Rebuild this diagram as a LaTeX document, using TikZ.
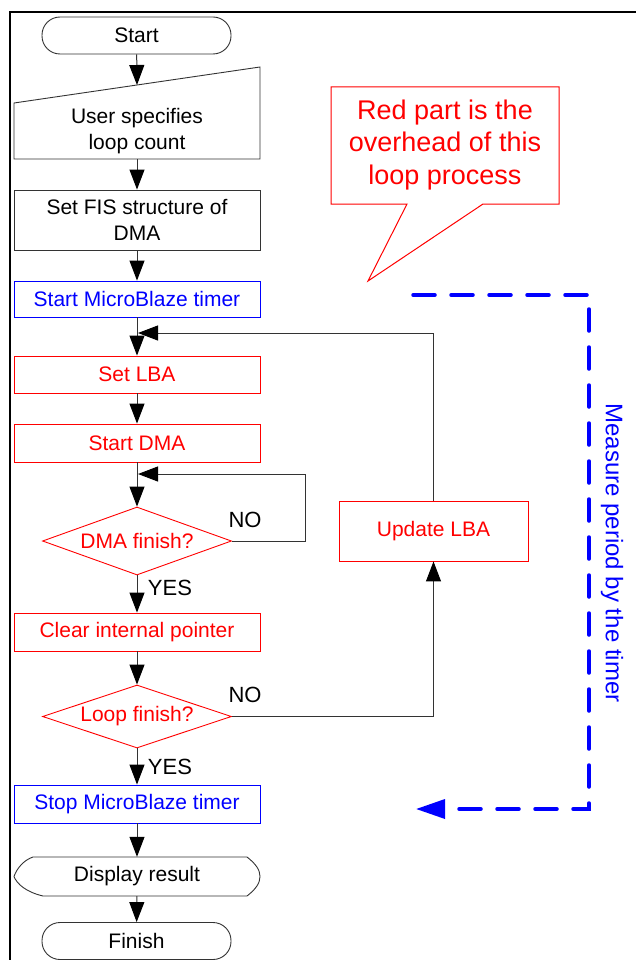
\documentclass[tikz,border=0pt]{standalone}
\usepackage{fontspec}
\setmainfont{Liberation Sans}
\usetikzlibrary{arrows.meta,shapes.geometric,calc}
\definecolor{pred}{RGB}{255,0,0}
\definecolor{pblue}{RGB}{0,0,255}
\begin{document}
\begin{tikzpicture}[x=1pt,y=-1pt,
  txt/.style={font=\fontsize{21}{26}\selectfont, align=center},
  procbox/.style={draw=black!80, line width=0.9pt, minimum width=246pt, inner sep=0pt, txt},
  redbox/.style={procbox, draw=pred, text=pred},
  bluebox/.style={procbox, draw=pblue, text=pblue},
  conn/.style={draw=black!80, line width=1pt, -{Triangle[length=20pt,width=15pt,color=black]}},
  outline/.style={draw=black!80, line width=0.9pt},
  dec/.style={shape=diamond, draw=pred, text=pred, line width=0.9pt, minimum width=189pt, minimum height=68pt, inner sep=0pt, aspect=2.8, txt},
  term/.style={draw=black!80, line width=0.9pt, rounded corners=18pt, minimum width=189pt, minimum height=37pt, inner sep=0pt, txt},
  lbl/.style={font=\fontsize{22}{26}\selectfont, inner sep=0pt},
  timerline/.style={draw=pblue, line width=3.5pt, line cap=round, dash pattern=on 22pt off 16pt}
]
\useasboundingbox (0,0) rectangle (635,960);
% frame
\draw[line width=2.5pt] (10,962) -- (10,12) -- (637,12);

% nodes
\node[term] (start) at (136.5,35.5) {Start};
\draw[outline] (14,103) -- (260,67) -- (260,159) -- (14,159) -- cycle;
\node[txt] (inp) at (137,131) {User specifies\\ loop count};
\coordinate (inptop) at (137,85);
\coordinate (inpbot) at (137,159);
\node[procbox, minimum height=60pt] (fis) at (137,220) {Set FIS structure of\\DMA};
\node[bluebox, minimum height=36pt] (t1) at (137,299) {Start MicroBlaze timer};
\node[redbox, minimum height=37pt] (lba) at (137,374.5) {Set LBA};
\node[redbox, minimum height=38pt] (dma) at (137,443) {Start DMA};
\node[dec] (dfin) at (137,541) {DMA finish?};
\node[redbox, minimum height=38pt] (clr) at (137,632) {Clear internal pointer};
\node[dec, minimum height=63pt] (lfin) at (137,716.5) {Loop finish?};
\node[bluebox, minimum height=38pt] (t2) at (137,804) {Stop MicroBlaze timer};
\node[txt, minimum width=246pt, minimum height=39pt, inner sep=0pt] (disp) at (137,876.5) {Display result};
\draw[outline] (33,857) -- (247,857) .. controls (256,864) and (260,870) .. (260,876.5)
  .. controls (260,883) and (256,889) .. (247,896) -- (43,896)
  .. controls (26,892) and (17,884) .. (14,876.5)
  .. controls (17,868) and (24,860) .. (33,857) -- cycle;
\node[term] (fin) at (136.5,941) {Finish};
\node[redbox, minimum width=189pt, minimum height=60pt] (upd) at (433.5,531) {Update LBA};

% connectors
\coordinate (m1) at (138,333);
\coordinate (m2) at (138,474);
\draw[conn] (start) -- (inptop);
\draw[conn] (inpbot) -- (fis);
\draw[conn] (fis) -- (t1);
\draw[conn] (t1) -- (lba);
\draw[conn] (upd.north) |- (m1);
\draw[conn] (lba) -- (dma);
\draw[conn] (dma) -- (dfin);
\draw[conn] (dfin.east) -- ++(74,0) |- (m2);
\draw[conn] (dfin) -- (clr);
\draw[conn] (clr) -- (lfin);
\draw[conn] (lfin.east) -| (upd.south);
\draw[conn] (lfin) -- (t2);
\draw[conn] (t2) -- (disp);
\draw[conn] (disp) -- (fin);

% labels
\node[lbl] (no1) at (245,520) {NO};
\node[lbl] (yes1) at (170,588) {YES};
\node[lbl] (no2) at (245,695) {NO};
\node[lbl] (yes2) at (170,767) {YES};

% callout
\draw[pred, line width=1pt] (331,87) -- (559,87) -- (559,204) -- (483,204) -- (368,281) -- (407,204) -- (331,204) -- cycle;
\node[font=\fontsize{27}{32.5}\selectfont, text=pred, align=center] (note) at (445,145) {Red part is the\\overhead of this\\loop process};

% timer measurement
\coordinate (b1) at (413,295);
\coordinate (b2) at (589,295);
\coordinate (b3) at (589,809);
\coordinate (b4) at (416,809);
\draw[timerline, -{Triangle[length=29pt,width=19pt]}] (b1) -- (b2) -- (b3) -- (b4);
\node[font=\fontsize{24}{28}\selectfont, text=pblue, rotate=-90] (meas) at (612,553) {Measure period by the timer};
\end{tikzpicture}
\end{document}
